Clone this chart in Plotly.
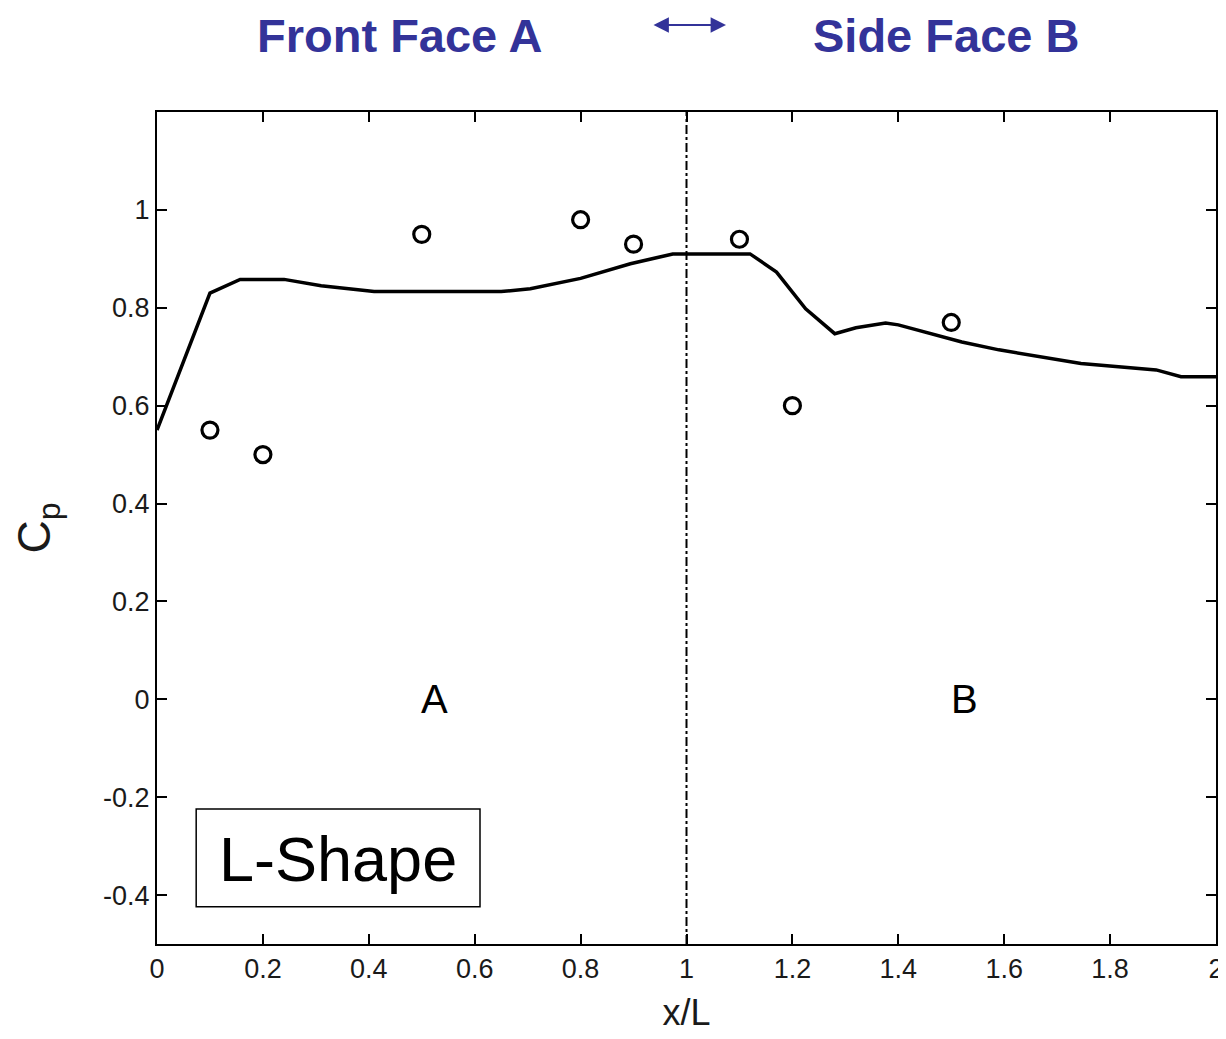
import plotly.graph_objects as go

# Measured data (open circles)
exp_x = [0.1, 0.2, 0.5, 0.8, 0.9, 1.1, 1.2, 1.5]
exp_cp = [0.55, 0.50, 0.95, 0.98, 0.93, 0.94, 0.60, 0.77]

# Computed curve (solid line)
sim_x = [0.0, 0.10, 0.157, 0.24, 0.31, 0.41, 0.65, 0.705, 0.80, 0.894, 0.974,
         1.12, 1.17, 1.225, 1.28, 1.32, 1.376, 1.40, 1.52, 1.59, 1.745, 1.887,
         1.934, 2.0]
sim_cp = [0.55, 0.83, 0.858, 0.858, 0.845, 0.833, 0.833, 0.839, 0.86, 0.89, 0.91,
          0.91, 0.873, 0.798, 0.747, 0.759, 0.769, 0.765, 0.73, 0.714, 0.686, 0.673,
          0.659, 0.659]

x_ticks = [0, 0.2, 0.4, 0.6, 0.8, 1, 1.2, 1.4, 1.6, 1.8, 2]
x_tick_labels = ["0", "0.2", "0.4", "0.6", "0.8", "1", "1.2", "1.4", "1.6", "1.8", "2"]
y_ticks = [-0.4, -0.2, 0, 0.2, 0.4, 0.6, 0.8, 1]
y_tick_labels = ["-0.4", "-0.2", "0", "0.2", "0.4", "0.6", "0.8", "1"]

face_divider = 1.0
region_labels = ["A", "B"]
region_x = [0.525, 1.525]
header_labels = ["Front Face A", "Side Face B"]

FONT = "Liberation Sans, Arial"
blue = "#333399"
OFF = 8  # page body margin
W, H = 1226 - OFF, 1039 - OFF
ML, MR, MT, MB = 157 - OFF, 10, 112 - OFF, 95


def px_to_paper_x(px):
    return (px - OFF - ML) / (W - ML - MR)


def px_to_paper_y(py):
    return (H - MB - (py - OFF)) / (H - MT - MB)


fig = go.Figure()
fig.add_trace(go.Scatter(x=sim_x, y=sim_cp, mode="lines",
                         line=dict(color="black", width=3.5), showlegend=False))
fig.add_trace(go.Scatter(x=exp_x, y=exp_cp, mode="markers",
                         marker=dict(symbol="circle-open", size=16, color="black",
                                     line=dict(width=3.2, color="black")),
                         showlegend=False))

# dash-dot divider
fig.add_shape(type="line", x0=face_divider, x1=face_divider, y0=-0.5, y1=1.2,
              xref="x", yref="y", line=dict(color="black", width=2, dash="dashdot"))

for lab, xx in zip(region_labels, region_x):
    fig.add_annotation(x=xx, y=0, text=lab, showarrow=False, xref="x", yref="y",
                       font=dict(family=FONT, size=40, color="black"))

# L-Shape box
fig.add_shape(type="rect", x0=0.074, x1=0.61, y0=-0.424, y1=-0.224, xref="x", yref="y",
              line=dict(color="black", width=1.5), fillcolor="white")
fig.add_annotation(x=0.342, y=-0.326, text="L-Shape", showarrow=False, xref="x", yref="y",
                   font=dict(family=FONT, size=63, color="black"))

# Header
fig.add_annotation(x=px_to_paper_x(400), y=px_to_paper_y(35), xref="paper", yref="paper",
                   yanchor="middle", xanchor="center", text="<b>%s</b>" % header_labels[0],
                   showarrow=False, borderpad=0, font=dict(family=FONT, size=47, color=blue))
fig.add_annotation(x=px_to_paper_x(946), y=px_to_paper_y(35), xref="paper", yref="paper",
                   yanchor="middle", xanchor="center", text="<b>%s</b>" % header_labels[1],
                   showarrow=False, borderpad=0, font=dict(family=FONT, size=47, color=blue))
fig.add_annotation(x=px_to_paper_x(726), y=px_to_paper_y(25), xref="paper", yref="paper",
                   ax=-74, ay=0, axref="pixel", ayref="pixel",
                   text="", showarrow=True, arrowhead=2, arrowside="end+start",
                   arrowsize=1.4, arrowwidth=2.2, arrowcolor=blue)

axis_common = dict(ticks="inside", ticklen=10, tickwidth=1.5, tickcolor="black",
                   showline=True, linecolor="black", linewidth=2, mirror="ticks",
                   showgrid=False, zeroline=False, automargin=False,
                   tickfont=dict(family=FONT, size=27, color="#1a1a1a"))

fig.update_layout(
    width=W, height=H,
    margin=dict(l=ML, r=MR, t=MT, b=MB),
    paper_bgcolor="white", plot_bgcolor="white",
    xaxis=dict(range=[0, 2], tickvals=x_ticks, ticktext=x_tick_labels,
               title=dict(text="x/L", font=dict(family=FONT, size=36, color="#1a1a1a"),
                          standoff=16),
               **axis_common),
    yaxis=dict(range=[-0.5, 1.2], tickvals=y_ticks, ticktext=y_tick_labels,
               title=dict(text="C<sub>p</sub>", font=dict(family=FONT, size=46, color="#1a1a1a"),
                          standoff=46),
               **axis_common),
)

fig.write_html("out.html")
